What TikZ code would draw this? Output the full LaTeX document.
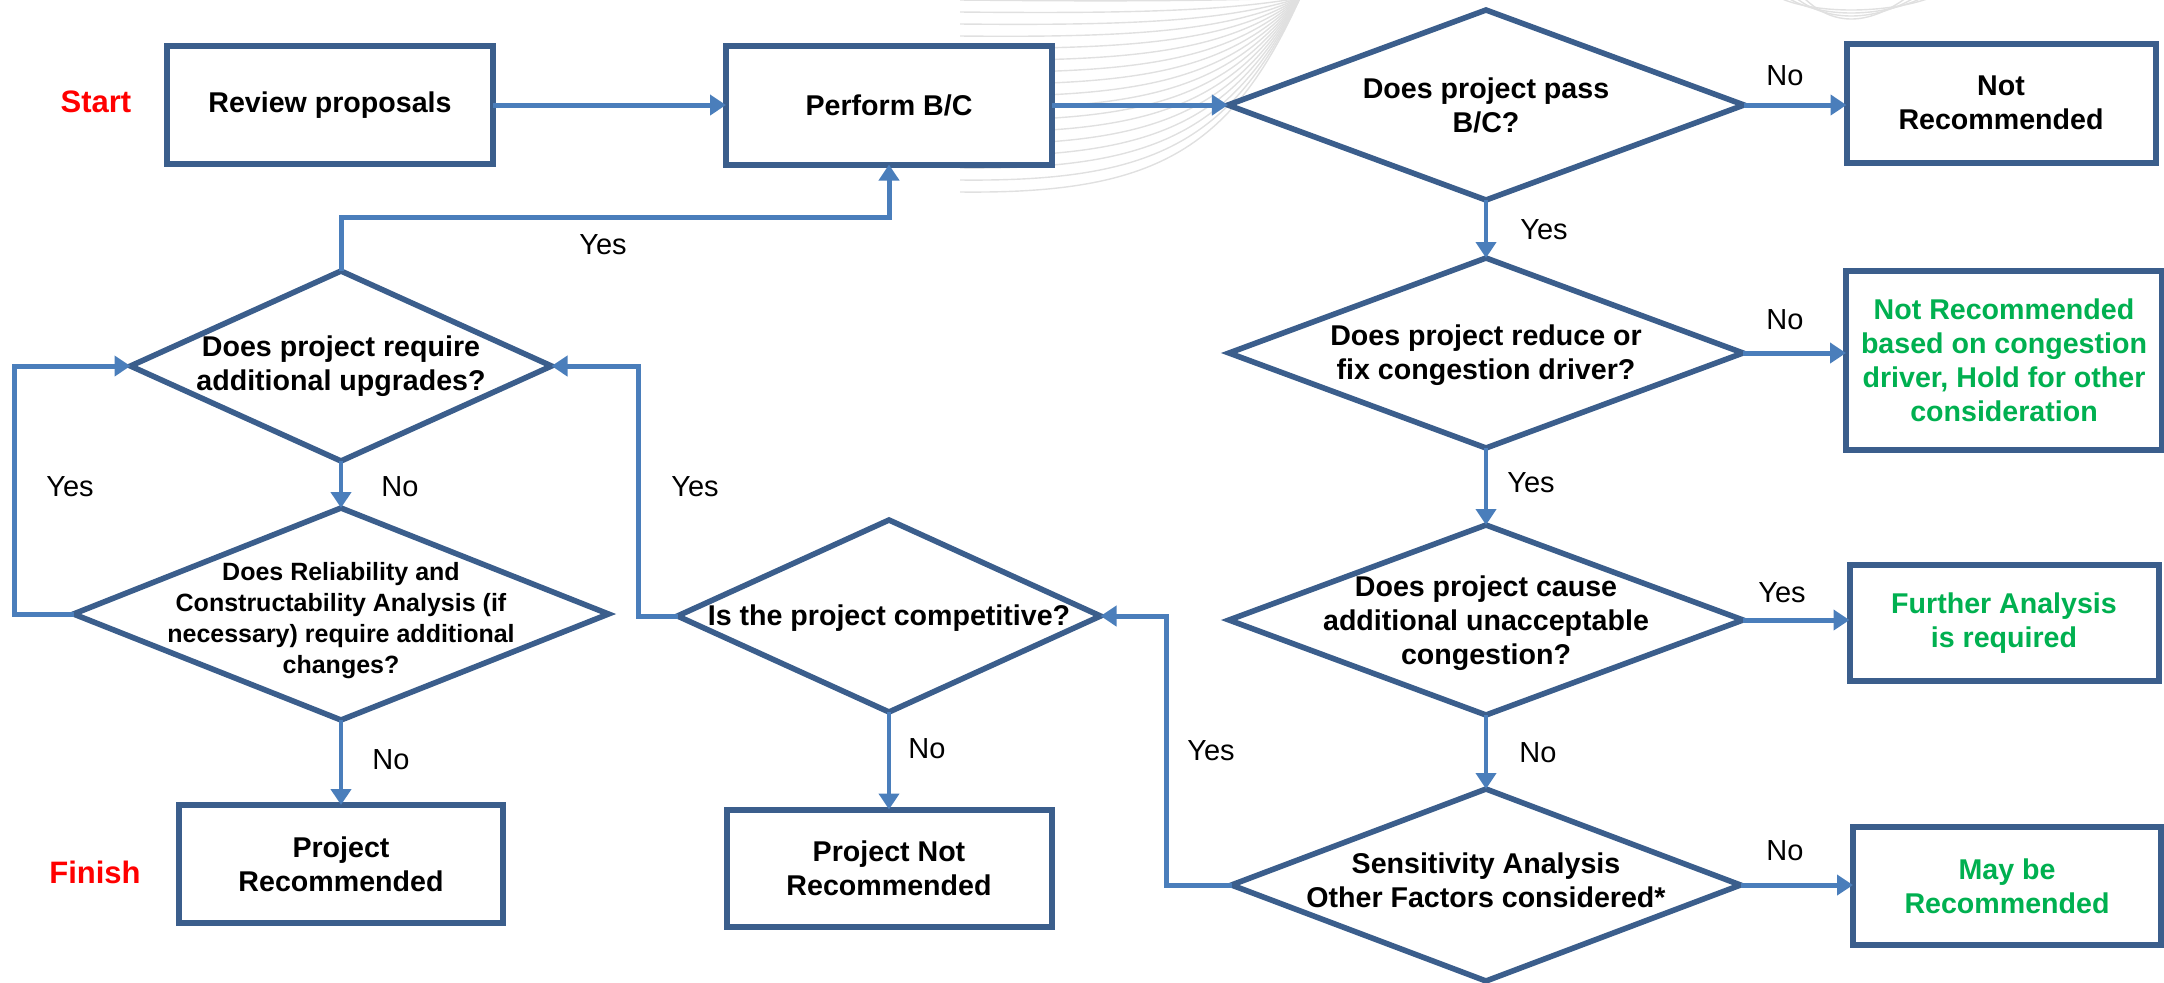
\documentclass[tikz,border=0pt]{standalone}
\usepackage{fontspec}
\setmainfont{Liberation Sans}
\usetikzlibrary{shapes.geometric,arrows.meta}
\definecolor{boxblue}{HTML}{3B5E8C}
\definecolor{arrowblue}{HTML}{4A7EBB}
\definecolor{startred}{HTML}{FF0000}
\definecolor{okgreen}{HTML}{00B050}
\begin{document}
\begin{tikzpicture}[x=0.5pt,y=-0.5pt,
  box/.style={draw=boxblue, line width=3pt, fill=white, inner sep=0pt, outer sep=0pt, align=center,
    font=\bfseries\fontsize{14.3}{17}\selectfont},
  dia/.style={diamond, draw=boxblue, line width=2.8pt, fill=white, inner sep=0pt, outer sep=0pt},
  dtext/.style={align=center, inner sep=0pt, font=\bfseries\fontsize{14.3}{17}\selectfont},
  arr/.style={draw=arrowblue, line width=2.5pt, -{Triangle[length=8pt,width=10pt]}},
  varr/.style={arr, line width=2pt},
  lab/.style={inner sep=0pt, font=\fontsize{14.5}{17}\selectfont},
  term/.style={inner sep=0pt, text=startred, font=\bfseries\fontsize{15.5}{18}\selectfont},
  deco/.style={draw=gray!24, line width=0.7pt}
]
\useasboundingbox (0,0) rectangle (2164,982);

% faint background curves
\foreach \i in {0,...,16}{
  \draw[deco] (960,12*\i) .. controls (1150,12*\i+2) and (1230,9.6*\i) .. (1300,-2);
}
\foreach \i in {0,...,3}{
  \draw[deco] (1780+8*\i,-2) .. controls (1815+6*\i,14+4*\i) and (1885-6*\i,14+4*\i) .. (1930-8*\i,-2);
}

% terminals
\node[term] (start) at (96,102) {Start};
\node[term] (finish) at (95,872) {Finish};

% boxes
\node[box, minimum width=163pt, minimum height=59pt] (review) at (330,105) {Review proposals};
\node[box, minimum width=163pt, minimum height=59.5pt] (perform) at (889,105) {Perform B/C};
\node[box, minimum width=154.5pt, minimum height=59.5pt] (notrec) at (2001,103) {Not\\Recommended};
\node[box, minimum width=158pt, minimum height=89.5pt, text=okgreen] (hold) at (2004,360)
  {Not Recommended\\based on congestion\\driver, Hold for other\\consideration};
\node[box, minimum width=154.5pt, minimum height=58pt, text=okgreen] (further) at (2004,623)
  {Further Analysis\\is required};
\node[box, minimum width=154pt, minimum height=59pt, text=okgreen] (maybe) at (2007,886)
  {May be\\Recommended};
\node[box, minimum width=162.5pt, minimum height=58.5pt] (projnot) at (889,868) {Project Not\\Recommended};
\node[box, minimum width=162pt, minimum height=59pt] (projrec) at (341,864) {Project\\Recommended};

% decisions
\node[dia, minimum width=258pt, minimum height=95pt] (q1) at (1486,105) {};
\node[dtext] (q1t) at (1486,105) {Does project pass\\B/C?};
\node[dia, minimum width=257pt, minimum height=95pt] (q2) at (1486,353) {};
\node[dtext] (q2t) at (1486,355) {Does project reduce or\\fix congestion driver?};
\node[dia, minimum width=257pt, minimum height=95pt] (q3) at (1486,620) {};
\node[dtext] (q3t) at (1486,623) {Does project cause\\additional unacceptable\\congestion?};
\node[dia, minimum width=254.5pt, minimum height=96pt] (q4) at (1486,885) {};
\node[dtext] (q4t) at (1486,880) {Sensitivity Analysis\\Other Factors considered*};
\node[dia, minimum width=211.5pt, minimum height=96pt] (comp) at (889,616) {};
\node[dtext] (compt) at (889,618) {Is the project competitive?};
\node[dia, minimum width=210.5pt, minimum height=95pt] (upg) at (341,366) {};
\node[dtext] (upgt) at (341,366) {Does project require\\additional upgrades?};
\node[dia, minimum width=267.5pt, minimum height=106pt] (rel) at (341,614) {};
\node[dtext, font=\bfseries\fontsize{12.5}{15.5}\selectfont] (relt) at (341,621)
  {Does Reliability and\\Constructability Analysis (if\\necessary) require additional\\changes?};

% connectors
\draw[arr] (review) -- (perform);
\draw[arr] (perform) -- (q1);
\draw[arr] (q1.east) -- (notrec.west |- q1.east);
\draw[varr] (q1.south) -- (q2.north);
\draw[arr] (q2.east) -- (hold.west |- q2.east);
\draw[varr] (q2.south) -- (q3.north);
\draw[arr] (q3.east) -- (further.west |- q3.east);
\draw[varr] (q3.south) -- (q4.north);
\draw[arr] (q4.east) -- (maybe.west |- q4.east);
\coordinate (c1) at (1166,885);
\draw[arr] (q4.west) -- (c1) |- (comp.east);
\draw[varr] (comp.south) -- (projnot.north);
\coordinate (c2) at (638,616);
\draw[arr] (comp.west) -- (c2) |- (upg.east);
\coordinate (c3) at (14,614);
\draw[arr] (rel.west) -- (c3) |- (upg.west);
\draw[varr] (upg.south) -- (rel.north);
\draw[varr] (rel.south) -- (projrec.north);
\coordinate (c4) at (341,217);
\draw[arr] (upg.north) -- (c4) -| (perform.south);

% labels
\node[lab] (l1) at (1785,76) {No};
\node[lab] (l2) at (1544,230) {Yes};
\node[lab] (l3) at (1785,320) {No};
\node[lab] (l4) at (1531,483) {Yes};
\node[lab] (l5) at (1782,593) {Yes};
\node[lab] (l6) at (1538,753) {No};
\node[lab] (l7) at (1785,851) {No};
\node[lab] (l8) at (1211,751) {Yes};
\node[lab] (l9) at (927,749) {No};
\node[lab] (l10) at (695,487) {Yes};
\node[lab] (l11) at (70,487) {Yes};
\node[lab] (l12) at (400,487) {No};
\node[lab] (l13) at (391,760) {No};
\node[lab] (l14) at (603,245) {Yes};
\end{tikzpicture}
\end{document}
